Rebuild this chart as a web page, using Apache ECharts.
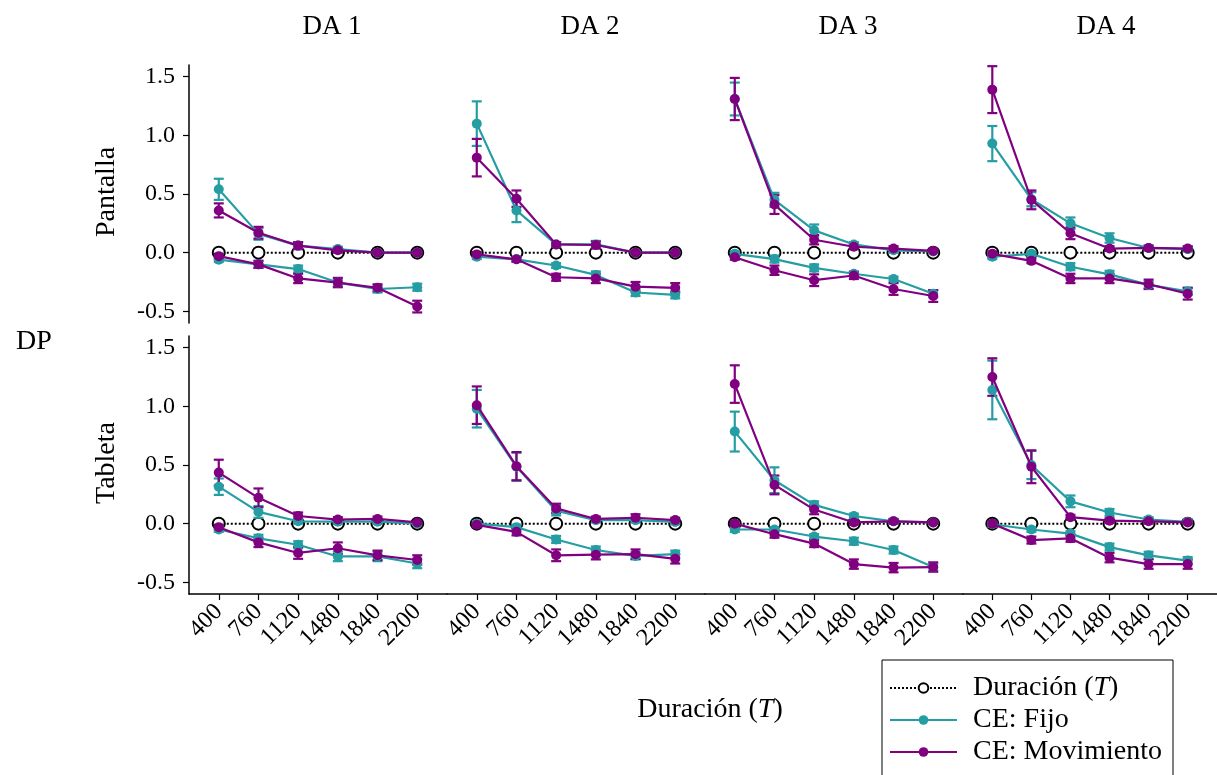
<!DOCTYPE html>
<html>
<head>
<meta charset="utf-8">
<script src="https://cdn.jsdelivr.net/npm/echarts@6/dist/echarts.min.js"></script>
<style>
  html, body { margin: 0; padding: 0; background: #fff; }
  #chart { width: 1217px; height: 775px; }
</style>
</head>
<body>
<div id="chart"></div>
<script>
var durations = ['400', '760', '1120', '1480', '1840', '2200'];
var panels = ['DA 1', 'DA 2', 'DA 3', 'DA 4'];
var rows = ['Pantalla', 'Tableta'];
var yTicks = [-0.5, 0, 0.5, 1.0, 1.5];

// Pantalla, one row per DA
var pantFijoPos = [
  [0.54, 0.16, 0.06, 0.03, 0.00, 0.00],
  [1.10, 0.36, 0.07, 0.07, 0.00, 0.00],
  [1.31, 0.45, 0.19, 0.07, 0.02, 0.01],
  [0.93, 0.455, 0.25, 0.125, 0.04, 0.03]
];
var pantFijoPosErr = [
  [0.09, 0.05, 0.03, 0.02, 0.01, 0.01],
  [0.19, 0.10, 0.02, 0.03, 0.01, 0.01],
  [0.14, 0.06, 0.05, 0.02, 0.02, 0.01],
  [0.15, 0.06, 0.05, 0.04, 0.02, 0.02]
];
var pantMovPos = [
  [0.36, 0.17, 0.06, 0.02, 0.00, 0.00],
  [0.81, 0.46, 0.07, 0.065, 0.00, 0.00],
  [1.31, 0.41, 0.11, 0.05, 0.035, 0.015],
  [1.39, 0.45, 0.165, 0.035, 0.04, 0.035]
];
var pantMovPosErr = [
  [0.06, 0.05, 0.03, 0.02, 0.01, 0.01],
  [0.16, 0.07, 0.02, 0.03, 0.01, 0.01],
  [0.18, 0.08, 0.04, 0.02, 0.02, 0.01],
  [0.20, 0.08, 0.05, 0.02, 0.02, 0.02]
];
var pantFijoNeg = [
  [-0.06, -0.10, -0.14, -0.255, -0.31, -0.295],
  [-0.035, -0.057, -0.11, -0.19, -0.34, -0.36],
  [-0.01, -0.055, -0.13, -0.18, -0.225, -0.35],
  [-0.035, -0.01, -0.12, -0.185, -0.275, -0.33]
];
var pantFijoNegErr = [
  [0.02, 0.03, 0.03, 0.03, 0.03, 0.03],
  [0.02, 0.02, 0.02, 0.03, 0.03, 0.03],
  [0.02, 0.03, 0.03, 0.02, 0.02, 0.03],
  [0.02, 0.02, 0.03, 0.03, 0.03, 0.03]
];
var pantMovNeg = [
  [-0.03, -0.10, -0.22, -0.255, -0.30, -0.46],
  [-0.015, -0.057, -0.21, -0.22, -0.29, -0.30],
  [-0.04, -0.15, -0.235, -0.195, -0.31, -0.37],
  [-0.01, -0.07, -0.22, -0.22, -0.27, -0.35]
];
var pantMovNegErr = [
  [0.02, 0.03, 0.04, 0.04, 0.03, 0.05],
  [0.02, 0.02, 0.03, 0.04, 0.04, 0.04],
  [0.02, 0.04, 0.05, 0.03, 0.05, 0.05],
  [0.02, 0.02, 0.04, 0.04, 0.04, 0.05]
];

// Tableta
var tabFijoPos = [
  [0.315, 0.10, 0.02, 0.017, 0.017, 0.00],
  [0.98, 0.485, 0.11, 0.03, 0.03, 0.015],
  [0.785, 0.37, 0.16, 0.065, 0.02, 0.01],
  [1.14, 0.50, 0.19, 0.095, 0.035, 0.015]
];
var tabFijoPosErr = [
  [0.07, 0.05, 0.02, 0.02, 0.02, 0.01],
  [0.16, 0.12, 0.04, 0.02, 0.02, 0.02],
  [0.17, 0.11, 0.03, 0.02, 0.02, 0.01],
  [0.25, 0.12, 0.05, 0.03, 0.02, 0.02]
];
var tabMovPos = [
  [0.435, 0.22, 0.065, 0.035, 0.04, 0.01],
  [1.01, 0.49, 0.13, 0.04, 0.05, 0.03],
  [1.19, 0.33, 0.12, 0.01, 0.02, 0.01],
  [1.25, 0.485, 0.055, 0.025, 0.02, 0.01]
];
var tabMovPosErr = [
  [0.11, 0.08, 0.03, 0.02, 0.02, 0.01],
  [0.16, 0.12, 0.04, 0.02, 0.03, 0.02],
  [0.16, 0.08, 0.04, 0.02, 0.02, 0.01],
  [0.16, 0.14, 0.02, 0.02, 0.02, 0.01]
];
var tabFijoNeg = [
  [-0.05, -0.125, -0.18, -0.28, -0.28, -0.34],
  [0.00, -0.03, -0.135, -0.225, -0.275, -0.26],
  [-0.05, -0.05, -0.11, -0.15, -0.225, -0.37],
  [-0.005, -0.05, -0.085, -0.20, -0.27, -0.315]
];
var tabFijoNegErr = [
  [0.02, 0.03, 0.03, 0.04, 0.04, 0.04],
  [0.02, 0.02, 0.03, 0.03, 0.03, 0.03],
  [0.02, 0.02, 0.02, 0.03, 0.03, 0.03],
  [0.02, 0.02, 0.02, 0.03, 0.03, 0.03]
];
var tabMovNeg = [
  [-0.03, -0.16, -0.25, -0.21, -0.27, -0.31],
  [-0.01, -0.07, -0.27, -0.265, -0.26, -0.30],
  [0.00, -0.09, -0.17, -0.345, -0.375, -0.37],
  [0.00, -0.14, -0.125, -0.29, -0.345, -0.345]
];
var tabMovNegErr = [
  [0.02, 0.04, 0.05, 0.05, 0.04, 0.04],
  [0.02, 0.03, 0.05, 0.04, 0.04, 0.04],
  [0.02, 0.03, 0.03, 0.04, 0.04, 0.04],
  [0.02, 0.03, 0.03, 0.04, 0.04, 0.04]
];

var TEAL = '#259ea3';
var PURPLE = '#800080';
var FONT = 'Liberation Serif';

var rowData = [
  {fp: pantFijoPos, fpe: pantFijoPosErr, mp: pantMovPos, mpe: pantMovPosErr,
   fn: pantFijoNeg, fne: pantFijoNegErr, mn: pantMovNeg, mne: pantMovNegErr},
  {fp: tabFijoPos, fpe: tabFijoPosErr, mp: tabMovPos, mpe: tabMovPosErr,
   fn: tabFijoNeg, fne: tabFijoNegErr, mn: tabMovNeg, mne: tabMovNegErr}
];

function pts(vals) {
  return vals.map(function (v, i) { return [i, v]; });
}
function errPts(vals, errs) {
  return vals.map(function (v, i) { return [i, v, errs[i]]; });
}
function errSeries(idx, vals, errs, color) {
  return {
    type: 'custom',
    name: 'err',
    xAxisIndex: idx,
    yAxisIndex: idx,
    encode: {x: 0, y: 1},
    z: 3,
    silent: true,
    data: errPts(vals, errs),
    renderItem: function (params, api) {
      var x = api.value(0), y = api.value(1), e = api.value(2);
      var top = api.coord([x, y + e]);
      var bot = api.coord([x, y - e]);
      var w = 5;
      var st = {stroke: color, lineWidth: 2.2};
      return {
        type: 'group',
        children: [
          {type: 'line', shape: {x1: top[0], y1: top[1], x2: bot[0], y2: bot[1]}, style: st},
          {type: 'line', shape: {x1: top[0] - w, y1: top[1], x2: top[0] + w, y2: top[1]}, style: st},
          {type: 'line', shape: {x1: bot[0] - w, y1: bot[1], x2: bot[0] + w, y2: bot[1]}, style: st}
        ]
      };
    }
  };
}
function lineSeries(idx, name, vals, color, z) {
  return {
    type: 'line',
    name: name,
    xAxisIndex: idx,
    yAxisIndex: idx,
    data: pts(vals),
    symbol: 'circle',
    symbolSize: 10,
    z: z,
    lineStyle: {color: color, width: 2.2},
    itemStyle: {color: color},
    emphasis: {disabled: true},
    animation: false
  };
}

var grids = [], xAxes = [], yAxes = [], series = [];
for (var r = 0; r < 2; r++) {
  for (var c = 0; c < 4; c++) {
    var idx = r * 4 + c;
    var bottom = r === 1;
    grids.push({left: 189 + 258 * c, top: r === 0 ? 65 : 336, width: 258, height: 258});
    xAxes.push({
      type: 'value', gridIndex: idx, min: -0.75, max: 5.75,
      splitLine: {show: false},
      axisLine: {show: bottom, onZero: false, lineStyle: {color: '#000', width: 1.5}},
      axisTick: {show: bottom, customValues: [0, 1, 2, 3, 4, 5], length: 6, lineStyle: {color: '#000', width: 1.2}},
      axisLabel: {
        show: bottom, customValues: [0, 1, 2, 3, 4, 5], rotate: 45, margin: 14,
        color: '#000', fontFamily: FONT, fontSize: 24,
        formatter: function (v) { return durations[Math.round(v)]; }
      }
    });
    yAxes.push({
      type: 'value', gridIndex: idx, min: -0.6, max: 1.6, show: c === 0,
      splitLine: {show: false},
      axisLine: {show: true, onZero: false, lineStyle: {color: '#000', width: 1.5}},
      axisTick: {show: true, customValues: yTicks, length: 6, lineStyle: {color: '#000', width: 1.2}},
      axisLabel: {
        customValues: yTicks, margin: 14, color: '#000', fontFamily: FONT, fontSize: 24,
        formatter: function (v) { return v.toFixed(1); }
      }
    });
    var d = rowData[r];
    series.push({
      type: 'line', name: 'Duración (T)', xAxisIndex: idx, yAxisIndex: idx,
      data: pts([0, 0, 0, 0, 0, 0]), symbol: 'circle', symbolSize: 12, z: 2,
      lineStyle: {color: '#000', width: 2, type: 'dotted'},
      itemStyle: {color: '#fff', borderColor: '#000', borderWidth: 2},
      emphasis: {disabled: true}, animation: false
    });
    series.push(errSeries(idx, d.fp[c], d.fpe[c], TEAL));
    series.push(errSeries(idx, d.fn[c], d.fne[c], TEAL));
    series.push(lineSeries(idx, 'CE: Fijo', d.fp[c], TEAL, 4));
    series.push(lineSeries(idx, 'CE: Fijo', d.fn[c], TEAL, 4));
    series.push(errSeries(idx, d.mp[c], d.mpe[c], PURPLE));
    series.push(errSeries(idx, d.mn[c], d.mne[c], PURPLE));
    series.push(lineSeries(idx, 'CE: Movimiento', d.mp[c], PURPLE, 5));
    series.push(lineSeries(idx, 'CE: Movimiento', d.mn[c], PURPLE, 5));
  }
}

var titles = panels.map(function (p, i) {
  return {
    text: p, left: 189 + 258 * i + 138, top: 8, textAlign: 'center',
    textStyle: {fontFamily: FONT, fontSize: 27, fontWeight: 'normal', color: '#000'}
  };
});

var txt = {fontFamily: FONT, fontSize: 28, fill: '#000'};
var chart = echarts.init(document.getElementById('chart'), null, {renderer: 'canvas'});
chart.setOption({
  animation: false,
  title: titles,
  grid: grids,
  xAxis: xAxes,
  yAxis: yAxes,
  series: series,
  legend: {
    data: ['Duración (T)', 'CE: Fijo', 'CE: Movimiento'],
    orient: 'vertical',
    left: 882, top: 660, height: 160,
    padding: [14, 11, 40, 7],
    itemWidth: 67, itemHeight: 12, itemGap: 4,
    borderColor: '#000', borderWidth: 1, borderRadius: 0,
    selectedMode: false,
    formatter: function (name) {
      if (name === 'Duración (T)') return '{a|Duración (}{i|T}{a|)}';
      return '{a|' + name + '}';
    },
    textStyle: {
      padding: [0, 0, 0, 11],
      rich: {
        a: {fontFamily: FONT, fontSize: 28, color: '#000', lineHeight: 33},
        i: {fontFamily: FONT, fontSize: 28, color: '#000', fontStyle: 'italic', lineHeight: 33}
      }
    }
  },
  graphic: [
    {type: 'text', x: 107, y: 192, rotation: Math.PI / 2,
     style: Object.assign({text: rows[0], textAlign: 'center', textVerticalAlign: 'middle'}, txt)},
    {type: 'text', x: 107, y: 463, rotation: Math.PI / 2,
     style: Object.assign({text: rows[1], textAlign: 'center', textVerticalAlign: 'middle'}, txt)},
    {type: 'text', x: 34, y: 342,
     style: Object.assign({text: 'DP', textAlign: 'center', textVerticalAlign: 'middle'}, txt)},
    {type: 'text', x: 710, y: 710,
     style: {
       text: '{a|Duración (}{i|T}{a|)}', textAlign: 'center', textVerticalAlign: 'middle',
       rich: {
         a: {fontFamily: FONT, fontSize: 28, fill: '#000'},
         i: {fontFamily: FONT, fontSize: 28, fill: '#000', fontStyle: 'italic'}
       }
     }}
  ]
});
</script>
</body>
</html>
